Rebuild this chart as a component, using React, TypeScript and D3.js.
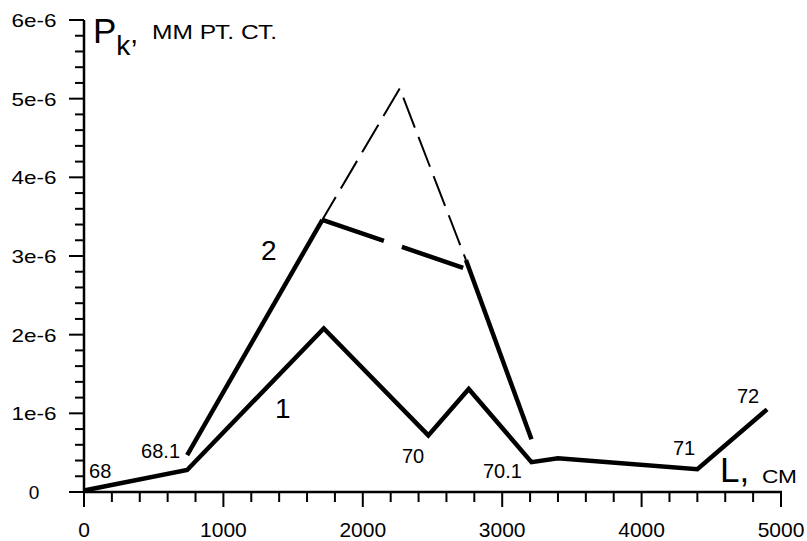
import React, { useEffect, useRef } from 'react';
import * as d3 from 'd3';

// curve 1 (solid)
const curve1L = [0, 740, 1720, 2470, 2760, 3210, 3400, 4400, 4900];
const curve1P = [0.02e-6, 0.28e-6, 2.08e-6, 0.72e-6, 1.31e-6, 0.38e-6, 0.43e-6, 0.29e-6, 1.05e-6];

// curve 2: solid start, thick dashed middle, solid end
const curve2aL = [740, 1710];
const curve2aP = [0.47e-6, 3.46e-6];
const curve2bL = [1710, 2720];
const curve2bP = [3.46e-6, 2.85e-6];
const curve2cL = [2740, 3210];
const curve2cP = [2.95e-6, 0.67e-6];

// thin dashed peak
const peakL = [1710, 2265, 2740];
const peakP = [3.46e-6, 5.13e-6, 2.95e-6];

const yTicks = [0, 1e-6, 2e-6, 3e-6, 4e-6, 5e-6, 6e-6];
const yTickLabels = ['0', '1e-6', '2e-6', '3e-6', '4e-6', '5e-6', '6e-6'];
const xTicks = [0, 1000, 2000, 3000, 4000, 5000];

// point annotations (text, L, P)
const pointLabels = ['68', '68.1', '70', '70.1', '71', '72'];
const pointLabelL = [36, 689, 2281, 2862, 4225, 4684];
const pointLabelP = [0.18e-6, 0.43e-6, 0.37e-6, 0.18e-6, 0.47e-6, 1.13e-6];
const pointLabelAnchor = ['start', 'end', 'start', 'start', 'start', 'start'];

const curveNames = ['1', '2'];
const curveNameL = [1370, 1270];
const curveNameP = [0.94e-6, 2.95e-6];

const FONT = '"Liberation Sans", Arial, sans-serif';

const App = () => {
  const ref = useRef<SVGSVGElement>(null);

  useEffect(() => {
    document.body.style.margin = '0';
    const width = 807;
    const height = 541;
    const x0 = 84, x1 = 781, y0 = 492, y1 = 20;

    const x = d3.scaleLinear().domain([0, 5000]).range([x0, x1]);
    const y = d3.scaleLinear().domain([0, 6e-6]).range([y0, y1]);

    const svg = d3.select(ref.current);
    svg.selectAll('*').remove();
    svg.attr('width', width).attr('height', height);
    svg.append('rect').attr('width', width).attr('height', height).attr('fill', '#fff');

    // axes lines
    svg.append('line').attr('x1', x0).attr('x2', x0).attr('y1', y1).attr('y2', y0 + 1)
      .attr('stroke', '#000').attr('stroke-width', 2.5);
    svg.append('line').attr('x1', x0).attr('x2', x1 + 1).attr('y1', y0).attr('y2', y0)
      .attr('stroke', '#000').attr('stroke-width', 2.5);

    // minor + major ticks
    const yMinor = d3.range(0, 31).map(i => i * 2e-7);
    svg.append('g').selectAll('line').data(yMinor).join('line')
      .attr('x1', (d, i) => (i % 5 === 0 ? x0 - 15 : x0 - 9)).attr('x2', x0)
      .attr('y1', d => y(d)).attr('y2', d => y(d))
      .attr('stroke', '#000').attr('stroke-width', 2);
    const xMinor = d3.range(0, 26).map(i => i * 200);
    svg.append('g').selectAll('line').data(xMinor).join('line')
      .attr('x1', d => x(d)).attr('x2', d => x(d))
      .attr('y1', y0).attr('y2', (d, i) => (i % 5 === 0 ? y0 + 15 : y0 + 10))
      .attr('stroke', '#000').attr('stroke-width', 2);

    // tick labels
    svg.append('g').selectAll('text').data(yTicks).join('text')
      .attr('x', 34).attr('y', d => y(d) + 7)
      .attr('text-anchor', 'middle')
      .attr('font-family', FONT).attr('font-size', 19)
      .attr('textLength', (d, i) => (i === 0 ? null : 45))
      .attr('lengthAdjust', 'spacingAndGlyphs')
      .text((d, i) => yTickLabels[i]);
    svg.append('g').selectAll('text').data(xTicks).join('text')
      .attr('x', d => x(d)).attr('y', 537)
      .attr('text-anchor', 'middle')
      .attr('font-family', FONT).attr('font-size', 21)
      .text(d => String(d));

    const line = d3.line<[number, number]>().x(d => x(d[0])).y(d => y(d[1]));
    const draw = (L: number[], P: number[], w: number, dash: string | null, offset = 0) =>
      svg.append('path')
        .attr('d', line(L.map((l, i) => [l, P[i]] as [number, number])))
        .attr('fill', 'none').attr('stroke', '#000').attr('stroke-width', w)
        .attr('stroke-linejoin', 'miter').attr('stroke-dasharray', dash)
        .attr('stroke-dashoffset', offset);

    draw(peakL, peakP, 2, '32,10', 5.6);
    draw(curve1L, curve1P, 4.5, null);
    draw(curve2aL, curve2aP, 4.5, null);
    draw(curve2bL, curve2bP, 4.5, '65,19');
    draw(curve2cL, curve2cP, 4.5, null);

    // point labels
    pointLabels.forEach((t, i) => {
      svg.append('text')
        .attr('x', x(pointLabelL[i])).attr('y', y(pointLabelP[i]))
        .attr('text-anchor', pointLabelAnchor[i])
        .attr('font-family', FONT).attr('font-size', 20)
        .text(t);
    });
    curveNames.forEach((t, i) => {
      svg.append('text')
        .attr('x', x(curveNameL[i])).attr('y', y(curveNameP[i]))
        .attr('font-family', FONT).attr('font-size', 28)
        .text(t);
    });

    // axis titles
    const py = svg.append('text').attr('font-family', FONT).attr('x', 93).attr('y', 43);
    py.append('tspan').attr('font-size', 35).text('P');
    py.append('tspan').attr('font-size', 28).attr('dy', 12).text('k');
    py.append('tspan').attr('font-size', 28).attr('dy', -12).text(',');
    svg.append('text').attr('font-family', FONT).attr('font-size', 20)
      .attr('x', 152).attr('y', 39)
      .attr('textLength', 125).attr('lengthAdjust', 'spacingAndGlyphs')
      .text('ММ РТ. СТ.');

    svg.append('text').attr('font-family', FONT).attr('font-size', 35)
      .attr('x', 720).attr('y', 482).text('L,');
    svg.append('text').attr('font-family', FONT).attr('font-size', 19)
      .attr('x', 762).attr('y', 483)
      .attr('textLength', 35).attr('lengthAdjust', 'spacingAndGlyphs')
      .text('СМ');
  }, []);

  return <svg ref={ref} style={{ display: 'block' }}></svg>;
};

export default App;
